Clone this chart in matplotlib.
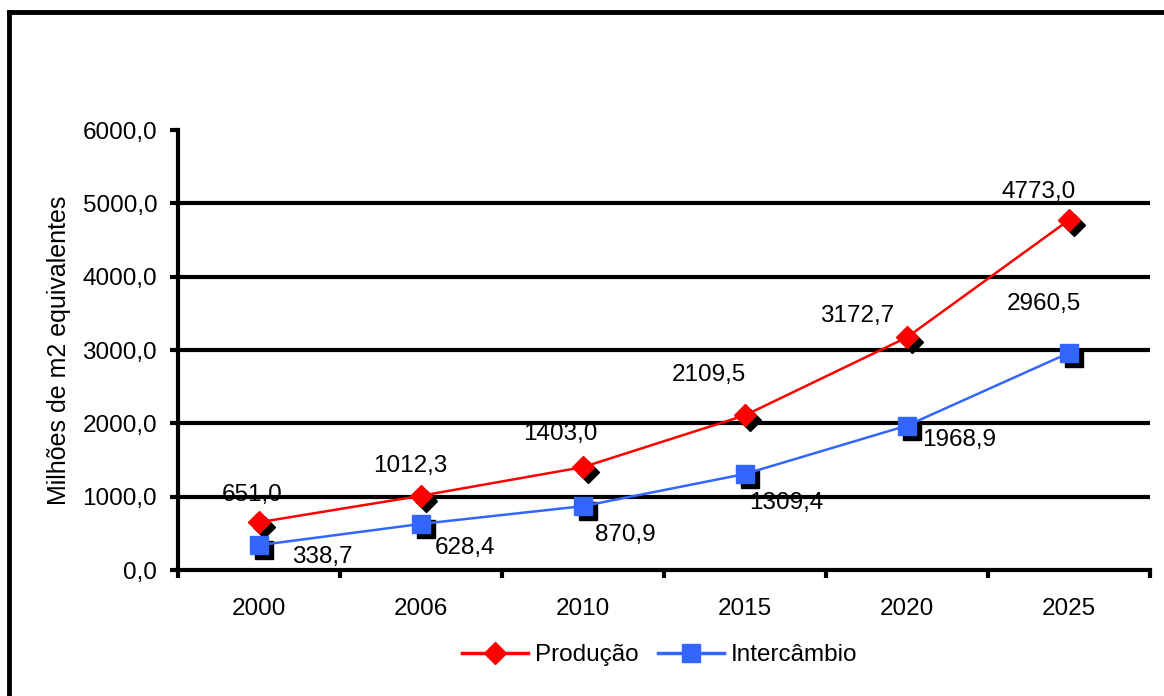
import matplotlib
matplotlib.use("Agg")
import matplotlib.pyplot as plt
import matplotlib.transforms as mtransforms
from matplotlib.lines import Line2D

plt.rcParams['font.family'] = ['Liberation Sans', 'DejaVu Sans']

anos = ['2000', '2006', '2010', '2015', '2020', '2025']
producao = [651.0, 1012.3, 1403.0, 2109.5, 3172.7, 4773.0]
intercambio = [338.7, 628.4, 870.9, 1309.4, 1968.9, 2960.5]

# label offsets (pixels) from each point
off_prod = [(-7, 27), (-11, 30), (-23, 33), (-36, 40), (-50, 21), (-30, 28)]
off_inter = [(63, -12), (44, -24), (42, -29), (41, -29), (52, -14), (-25, 49)]

def fmt(v):
    return f"{v:.1f}".replace('.', ',')

FS = 17.5
W, H = 1164, 696
fig = plt.figure(figsize=(W / 100, H / 100), dpi=100)
ax = fig.add_axes([178 / W, 1 - 570 / H, (1150 - 178) / W, 440 / H])

x = list(range(len(anos)))
red = '#ff0000'
blue = '#3366ff'

# marker shadows
shadow = mtransforms.offset_copy(ax.transData, fig=fig, x=5, y=-5, units='dots')
ax.plot(x, producao, linestyle='none', marker='D', markersize=11, color='black',
        transform=shadow, zorder=3)
ax.plot(x, intercambio, linestyle='none', marker='s', markersize=13, color='black',
        transform=shadow, zorder=3)

ax.plot(x, producao, color=red, lw=1.8, marker='D', markersize=11,
        markerfacecolor=red, markeredgecolor=red, zorder=4, label='Produção')
ax.plot(x, intercambio, color=blue, lw=1.8, marker='s', markersize=13,
        markerfacecolor=blue, markeredgecolor=blue, zorder=4, label='Intercâmbio')

for xi, v, (dx, dy) in zip(x, producao, off_prod):
    ax.annotate(fmt(v), (xi, v), xytext=(dx, dy), textcoords='offset pixels',
                ha='center', va='center', fontsize=FS, zorder=5)
for xi, v, (dx, dy) in zip(x, intercambio, off_inter):
    ax.annotate(fmt(v), (xi, v), xytext=(dx, dy), textcoords='offset pixels',
                ha='center', va='center', fontsize=FS, zorder=5)

ax.set_xlim(-0.5, len(anos) - 0.5)
ax.set_ylim(0, 6000)
yt = [0, 1000, 2000, 3000, 4000, 5000, 6000]
ax.set_yticks(yt)
ax.set_yticklabels([fmt(v) for v in yt], fontsize=FS)
ax.set_xticks(x)
ax.set_xticklabels(anos, fontsize=FS)
ax.set_xticks([i - 0.5 for i in range(len(anos) + 1)], minor=True)
ax.tick_params(axis='x', which='major', length=0, pad=20)
ax.tick_params(axis='x', which='minor', length=6, width=3, direction='out')
ax.tick_params(axis='y', length=6, width=3, direction='out', pad=9)

for g in yt[1:-1]:
    ax.axhline(g, color='black', lw=3, zorder=1)

for s in ['top', 'right']:
    ax.spines[s].set_visible(False)
ax.spines['left'].set_linewidth(3)
ax.spines['bottom'].set_linewidth(3)

ax.set_ylabel('Milhões de m2 equivalentes', fontsize=18, labelpad=8)

handles = [Line2D([], [], color=red, lw=2.5, marker='D', markersize=11),
           Line2D([], [], color=blue, lw=2.5, marker='s', markersize=13)]
fig.legend(handles, ['Produção', 'Intercâmbio'], loc='center',
           bbox_to_anchor=(660 / W, 1 - 655 / H), ncol=2, frameon=False,
           fontsize=FS, handlelength=2.7, handletextpad=0.3, columnspacing=0.8)

# outer frame (left and top edges)
fig.add_artist(Line2D([9 / W, 9 / W], [0, 1 - 12 / H], transform=fig.transFigure,
                      color='black', lw=3.5))
fig.add_artist(Line2D([9 / W, 1], [1 - 12 / H, 1 - 12 / H], transform=fig.transFigure,
                      color='black', lw=3.5))

fig.savefig('out.png', dpi=100)
